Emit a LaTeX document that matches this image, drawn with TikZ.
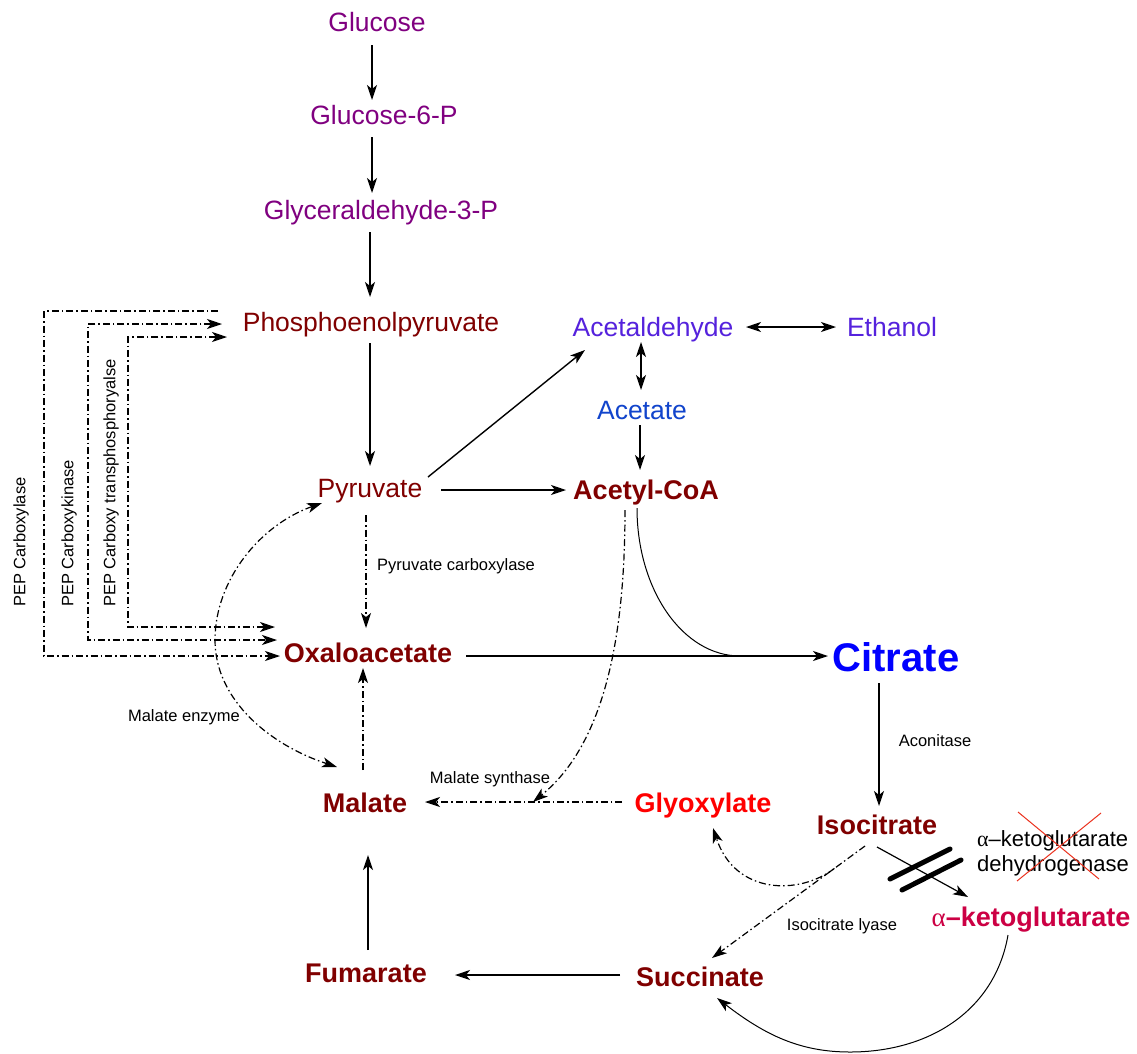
\documentclass[tikz,border=0pt]{standalone}
\usepackage{fontspec}
\setmainfont{Liberation Sans}
\newfontfamily\greekfont{Liberation Serif}
\usetikzlibrary{arrows.meta}
\definecolor{purp}{RGB}{128,0,128}
\definecolor{dred}{RGB}{128,0,0}
\definecolor{viol}{RGB}{85,34,221}
\definecolor{acblue}{RGB}{17,68,204}
\definecolor{citblue}{RGB}{0,0,255}
\definecolor{glyred}{RGB}{255,0,0}
\definecolor{akgc}{RGB}{204,0,68}
\definecolor{xred}{RGB}{235,50,30}
\begin{document}
\begin{tikzpicture}[x=1pt,y=-1pt,
  atip/.tip={Stealth[length=15pt,width=10pt,inset=4pt]},
  lbl/.style={inner sep=0pt, text height=19pt, text depth=0pt, font=\fontsize{26.5}{30}\selectfont},
  blbl/.style={inner sep=0pt, text height=19.3pt, text depth=0pt, font=\fontsize{27}{30}\selectfont\bfseries},
  citr/.style={inner sep=0pt, text height=28.6pt, text depth=0pt, font=\fontsize{40}{44}\selectfont\bfseries, text=citblue},
  small/.style={inner sep=0pt, font=\fontsize{16.5}{19}\selectfont},
  arr/.style={line width=1.4pt, -atip},
  thinc/.style={line width=1pt},
  dd/.style={line width=1.2pt, dash pattern=on 7pt off 3pt on 1.5pt off 3pt},
]
\useasboundingbox[fill=white] (0,0) rectangle (1137,1053);

% nodes
\node[lbl,text=purp] (glc) at (377,22) {Glucose};
\node[lbl,text=purp] (g6p) at (384,115) {Glucose-6-P};
\node[lbl,text=purp] (g3p) at (381,210) {Glyceraldehyde-3-P};
\node[lbl,text=dred] (pep) at (371,322) {Phosphoenolpyruvate};
\node[lbl,text=viol] (acald) at (653,327) {Acetaldehyde};
\node[lbl,text=viol] (eth) at (892,327) {Ethanol};
\node[lbl,text=acblue] (acet) at (642,410) {Acetate};
\node[lbl,text=dred] (pyr) at (370,488) {Pyruvate};
\node[blbl,text=dred] (acoa) at (646,490) {Acetyl-CoA};
\node[blbl,text=dred] (oaa) at (368,653) {Oxaloacetate};
\node[citr] (cit) at (896,657) {Citrate};
\node[blbl,text=dred] (mal) at (365,803) {Malate};
\node[blbl,text=glyred] (glyox) at (703,803) {Glyoxylate};
\node[blbl,text=dred] (isocit) at (877,825) {Isocitrate};
\node[blbl,text=akgc] (akg) at (1031,917) {{\greekfont\mdseries α}–ketoglutarate};
\node[blbl,text=dred] (succ) at (700,977) {Succinate};
\node[blbl,text=dred] (fum) at (366,973) {Fumarate};
\node[anchor=west, inner sep=0pt, align=left, font=\fontsize{22}{25}\selectfont] (akgdh) at (977,853) {{\greekfont α}–ketoglutarate\\dehydrogenase};

% small labels
\node[small,anchor=west] (lpc) at (377,566) {Pyruvate carboxylase};
\node[small] (lme) at (184,717) {Malate enzyme};
\node[small] (lms) at (490,779) {Malate synthase};
\node[small] (lac) at (935,741) {Aconitase};
\node[small] (lil) at (842,926) {Isocitrate lyase};
\node[small,rotate=90,anchor=west] (l1) at (21,607) {PEP Carboxylase};
\node[small,rotate=90,anchor=west] (l2) at (69,607) {PEP Carboxykinase};
\node[small,rotate=90,anchor=west] (l3) at (111,607) {PEP Carboxy transphosphoryalse};

% glycolysis
\draw[arr] ([shift={(-5,23)}]glc.center) -- ([shift={(-12,-15)}]g6p.center);
\draw[arr] ([shift={(-12,22)}]g6p.center) -- ([shift={(-9,-17)}]g3p.center);
\draw[arr] ([shift={(-11,22)}]g3p.center) -- ([shift={(-1,-25)}]pep.center);
\draw[arr] ([shift={(-1,21)}]pep.center) -- ([shift={(0,-22)}]pyr.center);
\draw[arr] ([shift={(58,-11)}]pyr.center) -- ([shift={(-68,23)}]acald.center);
\draw[arr] ([shift={(71,2)}]pyr.center) -- ([shift={(-80,0)}]acoa.center);
\draw[arr,atip-atip] ([shift={(93,0)}]acald.center) -- ([shift={(-56,0)}]eth.center);
\draw[arr,atip-atip] ([shift={(-12,15)}]acald.center) -- ([shift={(-1,-20)}]acet.center);
\draw[arr] ([shift={(-2,15)}]acet.center) -- ([shift={(-6,-20)}]acoa.center);

% PEP carboxylation routes
\draw[dd,-atip] ([shift={(-153,-11)}]pep.center) -- ++(-174,0) -- ++(0,345) -- ([shift={(-88,3)}]oaa.center);
\draw[dd,atip-atip] ([shift={(-149,2)}]pep.center) -- ++(-134,0) -- ++(0,316) -- ([shift={(-91,-13)}]oaa.center);
\draw[dd,atip-atip] ([shift={(-144,15)}]pep.center) -- ++(-99,0) -- ++(0,290) -- ([shift={(-93,-26)}]oaa.center);

% anaplerotic
\draw[dd,-atip] ([shift={(-4,27)}]pyr.center) -- ([shift={(-2,-25)}]oaa.center);
\draw[dd,-atip] ([shift={(-2,-33)}]mal.center) -- ([shift={(-5,15)}]oaa.center);
\draw[dd,atip-atip] ([shift={(-48,15)}]pyr.center) .. controls +(-62,22) and +(0,-60) .. (215,640)
   .. controls +(0,60) and +(-67,-22) .. ([shift={(-28,-36)}]mal.center);

% TCA
\draw[arr] ([shift={(98,3)}]oaa.center) -- coordinate[pos=0.757] (cj) ([shift={(-68,-1)}]cit.center);
\draw[thinc] ([shift={(-9,18)}]acoa.center) .. controls +(0,82) and +(-57,0) .. (cj);
\draw[dd,-atip] ([shift={(-81,-1)}]glyox.center) -- coordinate[pos=0.452] (msj) ([shift={(60,-1)}]mal.center);
\draw[dd,-atip] ([shift={(-21,20)}]acoa.center) .. controls +(0,110) and +(77,-62) .. (msj);
\draw[arr] ([shift={(-17,26)}]cit.center) -- ([shift={(2,-19)}]isocit.center);
\draw[line width=1.2pt,-atip] ([shift={(0,22)}]isocit.center) -- ([shift={(-63,-20)}]akg.center);
\draw[line width=5pt,line cap=round] ([shift={(13,54)}]isocit.center) -- ([shift={(73,24)}]isocit.center);
\draw[line width=5pt,line cap=round] ([shift={(25,65)}]isocit.center) -- ([shift={(84,35)}]isocit.center);
\draw[xred,line width=1pt] ([shift={(41,-41)}]akgdh.west) -- ([shift={(122,26)}]akgdh.west);
\draw[xred,line width=1pt] ([shift={(124,-40)}]akgdh.west) -- ([shift={(40,28)}]akgdh.west);
\draw[dd,-atip] ([shift={(-12,21)}]isocit.center) -- coordinate[pos=0.2] (lj) ([shift={(12,-19)}]succ.center);
\draw[dd,-atip] (lj) .. controls +(-35,27) and +(22,67) .. ([shift={(10,25)}]glyox.center);
\draw[thinc,-atip] ([shift={(-23,18)}]akg.center) .. controls +(-13,75) and +(80,0) .. (850,1052)
   .. controls +(-50,0) and +(48,37) .. ([shift={(17,21)}]succ.center);
\draw[arr] ([shift={(-80,-2)}]succ.center) -- ([shift={(89,2)}]fum.center);
\draw[arr] ([shift={(2,-23)}]fum.center) -- ([shift={(3,52)}]mal.center);
\end{tikzpicture}
\end{document}
